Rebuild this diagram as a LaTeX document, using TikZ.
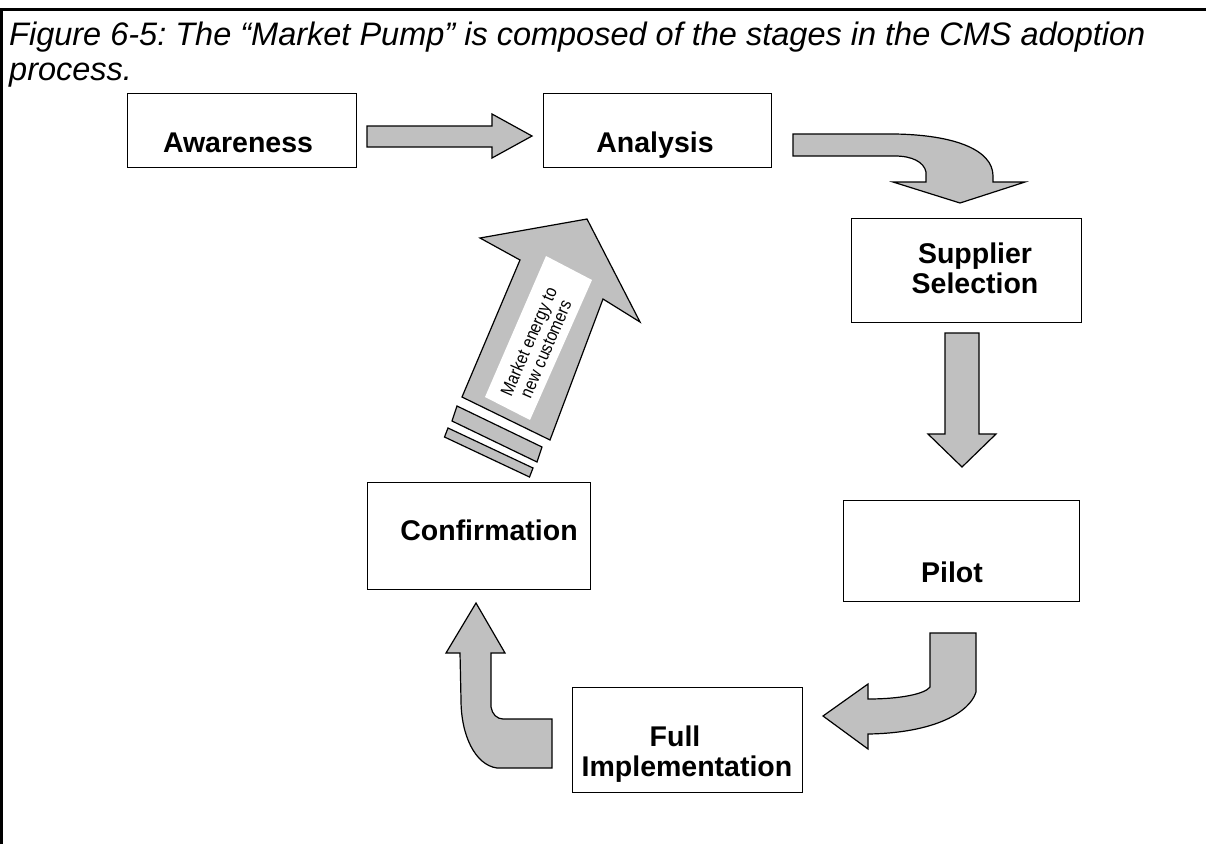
\documentclass[tikz,border=0pt]{standalone}
\usepackage{fontspec}
\setmainfont{Liberation Sans}
\newfontfamily\narrowsans[FakeStretch=0.86]{Liberation Sans}
\definecolor{pumpgray}{HTML}{C0C0C0}
\frenchspacing
\begin{document}
\begin{tikzpicture}[x=1pt,y=-1pt,
  stage/.style={draw=black, line width=1.3pt, fill=white, inner sep=0pt, anchor=north west},
  stagetext/.style={font=\fontsize{28.5}{30}\selectfont\bfseries, align=center, inner sep=0pt},
  flow/.style={draw=black, line width=1.2pt, fill=pumpgray, line join=miter},
]
\useasboundingbox (0,0) rectangle (1206,844);
% frame: left and top rules
\draw[line width=3pt] (1.5,844) -- (1.5,9.5) -- (1206,9.5);

% caption (base anchor sits on the last line)
\node[anchor=base west, inner sep=0pt, align=left,
      font=\fontsize{32.5}{35}\selectfont\itshape] (caption) at (9,80)
  {Figure 6-5: The “Market Pump” is composed of the stages in the CMS adoption\\process.};

% stage boxes
\node[stage, minimum width=229.5, minimum height=74] (aware) at (126.5,93) {};
\node[stage, minimum width=228, minimum height=74] (analysis) at (543,93) {};
\node[stage, minimum width=230, minimum height=104] (supplier) at (851,218) {};
\node[stage, minimum width=236, minimum height=101] (pilot) at (843,500) {};
\node[stage, minimum width=223, minimum height=107] (confirm) at (367,482) {};
\node[stage, minimum width=230, minimum height=105] (full) at (572,687) {};

% stage labels
\node[stagetext, anchor=base] (awaretxt) at (238,152) {Awareness};
\node[stagetext, anchor=base] (analysistxt) at (655,152) {Analysis};
\node[stagetext, anchor=center] (suppliertxt) at (975,268) {Supplier\\Selection};
\node[stagetext, anchor=base] (pilottxt) at (952,582) {Pilot};
\node[stagetext, anchor=base] (confirmtxt) at (489,540) {Confirmation};
\node[stagetext, anchor=center] (fulltxt) at (687,754) {Full\hspace*{24pt}\\Implementation};

% Awareness -> Analysis
\draw[flow] (367,126) -- (492,126) -- (492,114) -- (532,136) -- (492,158)
  -- (492,147) -- (367,147) -- cycle;

% Analysis -> Supplier Selection (bent)
\draw[flow] (793,134) -- (895,134) .. controls (955,135) and (993,150) .. (993,176)
  -- (993,182) -- (1025,182) -- (960,203) -- (893,182) -- (926,182) -- (926,172)
  .. controls (924,162) and (912,156) .. (895,156) -- (793,156) -- cycle;

% Supplier Selection -> Pilot
\draw[flow] (945,333) -- (979,333) -- (979,434) -- (996,434) -- (962,467)
  -- (928,434) -- (945,434) -- cycle;

% Pilot -> Full Implementation (bent)
\draw[flow] (930,633) -- (976,633) -- (976,692) .. controls (970,712) and (935,733) .. (868,734)
  -- (868,749) -- (823,716) -- (868,684) -- (868,699)
  .. controls (900,699) and (925,694) .. (930,687) -- cycle;

% Full Implementation -> Confirmation (bent)
\draw[flow] (476,603) -- (505,653) -- (491,653) -- (491,707)
  .. controls (492,714) and (497,719) .. (503,719) -- (552,719) -- (552,768) -- (497,768)
  .. controls (475,765) and (461,735) .. (461,700) -- (460,653) -- (446,653) -- cycle;

% market energy pump arrow
\draw[flow] (462,397) -- (520,260) -- (480,238) -- (587,219) -- (640,322)
  -- (603,299) -- (550,440) -- cycle;
\draw[flow] (457,406) -- (542,447) -- (537,462) -- (452,421) -- cycle;
\draw[flow] (448,428) -- (533,468) -- (529.5,477) -- (444.5,437) -- cycle;
\fill[white] (546,256) -- (592,280) -- (530,420) -- (485,397) -- cycle;
\node[rotate=66.6, align=center, inner sep=0pt,
      font=\narrowsans\fontsize{18}{18.5}\selectfont] (pumptxt) at (537,345)
  {Market energy to\\new customers};
\end{tikzpicture}
\end{document}
